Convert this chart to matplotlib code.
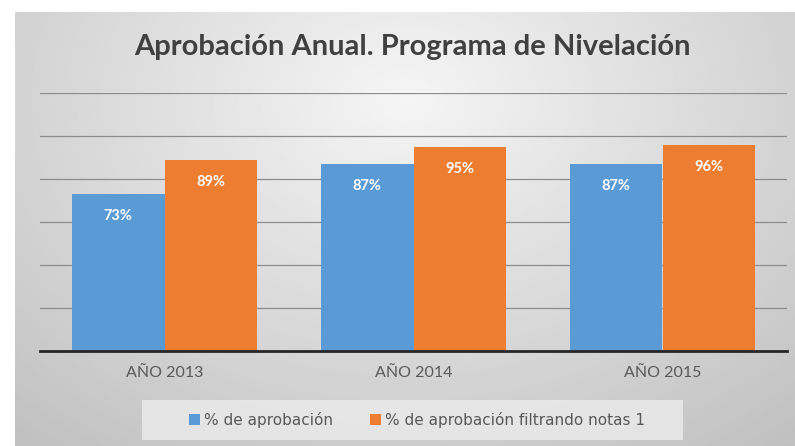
import numpy as np
import matplotlib
matplotlib.use('Agg')
import matplotlib.pyplot as plt
from matplotlib.patches import Rectangle

# datos
anios = ['AÑO 2013', 'AÑO 2014', 'AÑO 2015']
aprobacion = [73, 87, 87]
aprobacion_filtrada = [89, 95, 96]
series = ['% de aprobación', '% de aprobación filtrando notas 1']

azul = '#5B9BD5'
naranja = '#ED7D31'
gris_texto = '#595959'

plt.rcParams['font.family'] = ['Lato', 'DejaVu Sans']

fig = plt.figure(figsize=(7.95, 4.46), dpi=100)
fig.patch.set_facecolor('white')

# fondo gris con degradado radial (como el grafico de Excel)
bg = fig.add_axes([15 / 795, 0, 1 - 15 / 795, 1 - 12 / 446])
bg.set_zorder(0)
yy, xx = np.mgrid[0:1:200j, 0:1:400j]
r = np.sqrt(((xx - 0.5) / 0.75) ** 2 + ((yy - 0.2) / 1.0) ** 2)
grad = 0.96 - 0.2 * np.clip(r, 0, 1.2)
bg.imshow(grad, cmap='gray', vmin=0, vmax=1, aspect='auto', extent=[0, 1, 1, 0])
bg.set_axis_off()

# caja de la leyenda
fig.patches.append(Rectangle((142 / 795, 1 - 440 / 446), 541 / 795, 40 / 446,
                             transform=fig.transFigure, facecolor='#ececec',
                             edgecolor='none', alpha=0.8, zorder=1))

ax = fig.add_axes([40 / 795, 1 - 351 / 446, 747 / 795, 258 / 446])
ax.set_zorder(2)
ax.patch.set_alpha(0)

x = np.arange(len(anios))
w = 0.373
b1 = ax.bar(x - w / 2, aprobacion, w, color=azul, label=series[0], zorder=3)
b2 = ax.bar(x + w / 2, aprobacion_filtrada, w, color=naranja, label=series[1], zorder=3)

for barras in (b1, b2):
    for b in barras:
        ax.annotate(f'{b.get_height():.0f}%', (b.get_x() + b.get_width() / 2, b.get_height()),
                    xytext=(0, -22), textcoords='offset pixels',
                    ha='center', va='center', color='white', fontsize=10.5,
                    fontweight='bold', zorder=4)

ax.set_xlim(-0.5, 2.5)
ax.set_ylim(0, 120)
ax.set_yticks(np.arange(0, 121, 20))
ax.yaxis.grid(True, color='#8c8c8c', linewidth=0.9, zorder=0)
ax.tick_params(axis='y', left=False, labelleft=False)
ax.set_xticks(x)
ax.set_xticklabels(anios, color=gris_texto, fontsize=11.5)
ax.tick_params(axis='x', length=0, pad=11)
for s in ['top', 'right', 'left']:
    ax.spines[s].set_visible(False)
ax.spines['bottom'].set_color('#262626')
ax.spines['bottom'].set_linewidth(2)
ax.spines['bottom'].set_zorder(5)

fig.text(412 / 795, 1 - 47 / 446, 'Aprobación Anual. Programa de Nivelación',
         ha='center', va='center', fontsize=21, fontweight='bold', color='#404040')

leg = ax.legend(loc='center', bbox_to_anchor=(417 / 795, 1 - 420 / 446),
                bbox_transform=fig.transFigure, ncol=2, frameon=False,
                prop={'family': 'DejaVu Sans', 'size': 11},
                handlelength=0.7, handleheight=0.7, handletextpad=0.3,
                columnspacing=2.4)
for t in leg.get_texts():
    t.set_color(gris_texto)

fig.savefig('out.png', dpi=100)
